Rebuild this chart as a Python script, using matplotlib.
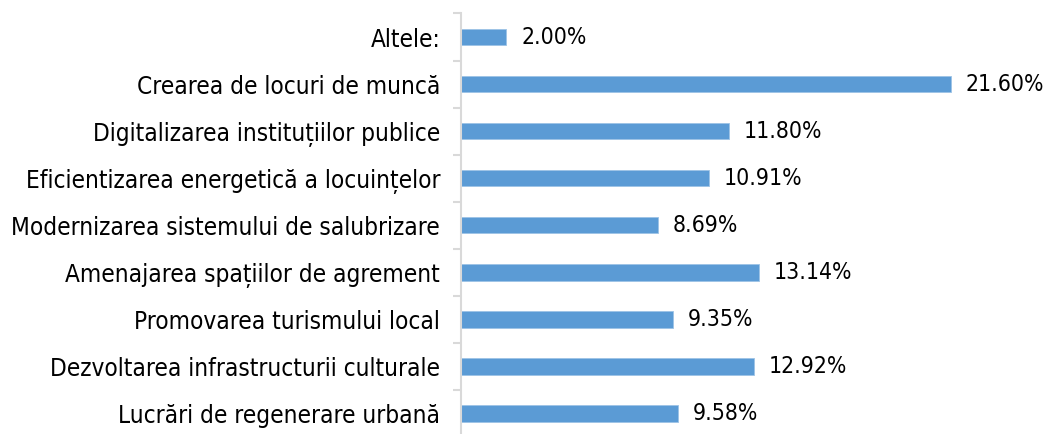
import matplotlib.pyplot as plt
import numpy as np

categories = [
    'Altele:',
    'Crearea de locuri de muncă',
    'Digitalizarea instituțiilor publice',
    'Eficientizarea energetică a locuințelor',
    'Modernizarea sistemului de salubrizare',
    'Amenajarea spațiilor de agrement',
    'Promovarea turismului local',
    'Dezvoltarea infrastructurii culturale',
    'Lucrări de regenerare urbană',
]
values = [2.00, 21.60, 11.80, 10.91, 8.69, 13.14, 9.35, 12.92, 9.58]

plt.rcParams['font.family'] = ['DejaVu Sans']
plt.rcParams['font.stretch'] = 'condensed'

fig = plt.figure(figsize=(10.44, 4.34), dpi=100)
ax = fig.add_axes([461 / 1044, -3 / 434, (1040 - 461) / 1044, (434 - 13.5 + 3) / 434])

y = np.arange(len(categories))
ax.barh(y, values, height=0.35, color='#5B9BD5', edgecolor='#9DC3E6', linewidth=0.6)
for yi, v in zip(y, values):
    ax.text(v + 0.65, yi, f'{v:.2f}%', va='center', ha='left', fontsize=16.5, stretch='condensed')

ax.set_xlim(0, 25.52)
ax.set_ylim(len(categories) - 0.5, -0.5)
ax.set_yticks(y)
ax.set_yticklabels(categories, fontsize=17.5, stretch='condensed')
ax.set_yticks(np.arange(len(categories) + 1) - 0.5, minor=True)
ax.tick_params(axis='y', which='major', length=0, pad=15)
ax.tick_params(axis='y', which='minor', length=6, width=1.5, color='#D9D9D9')
ax.set_xticks([])
for s in ['top', 'right', 'bottom']:
    ax.spines[s].set_visible(False)
ax.spines['left'].set_color('#D9D9D9')
ax.spines['left'].set_linewidth(1.5)

fig.savefig('out.png', dpi=100)
